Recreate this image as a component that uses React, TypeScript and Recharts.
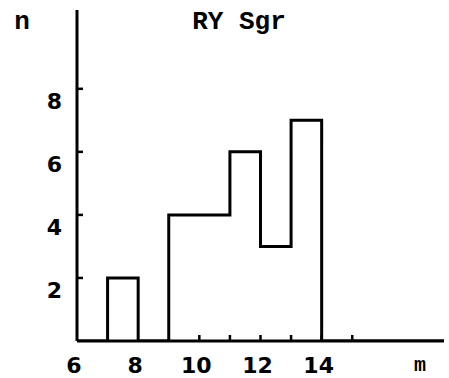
import React from 'react';
import { ComposedChart, Line, XAxis, YAxis, Customized } from 'recharts';

// histogram of RY Sgr: bin start (m) and count (n)
const binStarts = [6, 7, 8, 9, 10, 11, 12, 13, 14, 18];
const counts = [0, 2, 0, 4, 4, 6, 3, 7, 0, 0];

const xTicks = [6, 8, 10, 11, 12, 13, 14, 15];
const xLabels = [6, 8, 10, 12, 14];
const xMarks = [10, 11, 12, 13, 14, 15];
const yTicks = [2, 4, 6, 8];

const title = 'RY Sgr';
const yName = 'n';
const xName = 'm';

const data = binStarts.map((m, i) => ({ m, n: counts[i] }));

const XTick = (props: any) => {
  const { x, y, payload } = props;
  const v = payload.value;
  return (
    <g>
      {xMarks.includes(v) && (
        <line x1={x} x2={x} y1={y} y2={y - 6} stroke="#000" strokeWidth={2.5} />
      )}
      {xLabels.includes(v) && (
        <text
          x={x - 3}
          y={y + 32}
          textAnchor="middle"
          fontFamily="DejaVu Sans"
          fontWeight="bold"
          fontSize={22}
          fill="#000"
        >
          {v}
        </text>
      )}
    </g>
  );
};

const YTick = (props: any) => {
  const { x, y, payload } = props;
  return (
    <g>
      <line x1={x} x2={x + 6} y1={y} y2={y} stroke="#000" strokeWidth={2.5} />
      <text
        x={x - 15}
        y={y + 20}
        textAnchor="end"
        fontFamily="DejaVu Sans"
        fontWeight="bold"
        fontSize={22}
        fill="#000"
      >
        {payload.value}
      </text>
    </g>
  );
};

const Labels = () => (
  <g>
    <text x={239} y={29} textAnchor="middle" fontFamily="Liberation Mono" fontWeight="bold" fontSize={26} fill="#000">
      {title}
    </text>
    <text x={22} y={29} textAnchor="middle" fontFamily="Liberation Mono" fontWeight="bold" fontSize={26} fill="#000">
      {yName}
    </text>
    <text x={420} y={371} textAnchor="middle" fontFamily="Liberation Mono" fontWeight="bold" fontSize={20} fill="#000">
      {xName}
    </text>
  </g>
);

export default function App() {
  return (
    <div style={{ position: 'absolute', left: 0, top: 0, width: 449, height: 378, background: '#fff' }}>
      <ComposedChart
        width={449}
        height={378}
        data={data}
        margin={{ top: 10, right: 5, left: 0, bottom: 0 }}
      >
        <XAxis
          dataKey="m"
          type="number"
          domain={[6, 18]}
          ticks={xTicks}
          interval={0}
          height={37}
          axisLine={{ stroke: '#000', strokeWidth: 3 }}
          tickLine={false}
          tickSize={0}
          tickMargin={0}
          tick={<XTick />}
          allowDataOverflow
        />
        <YAxis
          type="number"
          domain={[0, 10.5]}
          ticks={yTicks}
          interval={0}
          width={77}
          axisLine={{ stroke: '#000', strokeWidth: 3 }}
          tickLine={false}
          tickSize={0}
          tickMargin={0}
          tick={<YTick />}
          allowDataOverflow
        />
        <Line
          dataKey="n"
          type="stepAfter"
          stroke="#000"
          strokeWidth={3}
          dot={false}
          activeDot={false}
          isAnimationActive={false}
          strokeLinejoin="miter"
        />
        <Customized component={Labels} />
      </ComposedChart>
    </div>
  );
}
